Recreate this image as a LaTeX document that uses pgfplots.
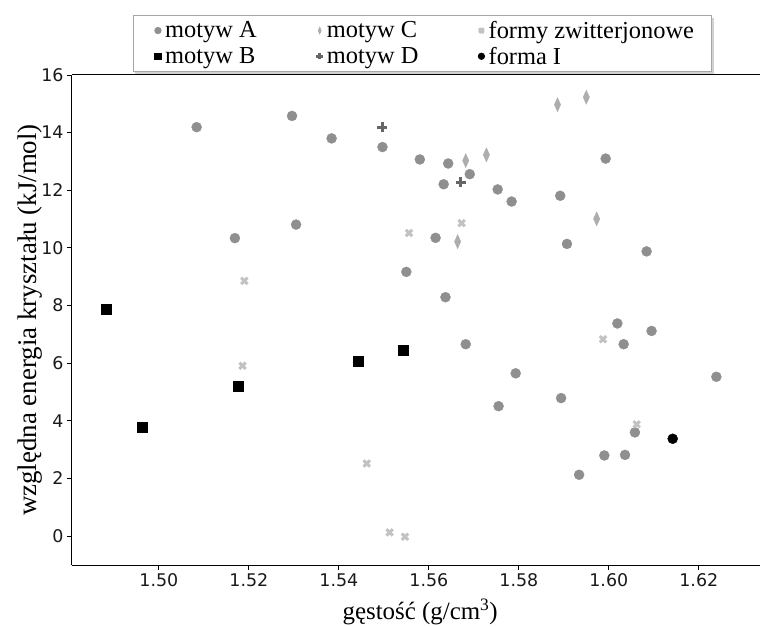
\documentclass[border=0pt]{standalone}
\usepackage{fontspec}
\setmainfont{Liberation Serif}
\newfontfamily\dejavu{DejaVu Sans}
\usepackage{pgfplots}
\pgfplotsset{compat=1.18}
\usetikzlibrary{shadows}

\definecolor{cA}{gray}{0.56}
\definecolor{cC}{gray}{0.68}
\definecolor{cZ}{gray}{0.76}
\definecolor{cD}{gray}{0.40}

\begin{document}
\begin{tikzpicture}
\begin{axis}[
    scale only axis,
    width=688bp, height=490bp,
    xmin=1.4807, xmax=1.6336,
    ymin=-1, ymax=16,
    axis x line=box, axis y line=left,
    axis line style={-, line width=1bp},
    xtick pos=left, ytick pos=left,
    tick align=outside,
    major tick length=5bp,
    tick style={black, line width=0.9bp},
    xtick={1.50,1.52,...,1.621},
    ytick={0,2,...,16},
    /pgf/number format/assume math mode=true,
    xticklabel style={/pgf/number format/.cd, fixed, fixed zerofill, precision=2},
    ticklabel style={font=\dejavu\fontsize{17.5}{17.5}\selectfont, text=black!90},
    xlabel={gęstość (g/cm\textsuperscript{3})},
    ylabel={względna energia kryształu (kJ/mol)},
    xlabel style={font=\fontsize{25}{25}\selectfont,
        at={(axis description cs:0.506,0)}, anchor=center, yshift=-47bp},
    ylabel style={font=\fontsize{27}{27}\selectfont,
        at={(axis description cs:-0.061,0.5)}, anchor=center},
    legend columns=3,
    legend cell align=left,
    legend style={at={(0.5087,1)}, anchor=south, yshift=3bp,
        draw=gray!70, line width=0.8bp, fill=white,
        drop shadow={shadow xshift=2.5bp, shadow yshift=-2.5bp, fill=gray!70},
        font=\fontsize{24.5}{24.5}\selectfont,
        inner xsep=15bp, inner ysep=3.5bp,
        nodes={inner xsep=2bp, inner ysep=2.5bp},
        /tikz/every even column/.append style={column sep=51bp},
        /tikz/column sep=2bp,
        row sep=2bp},
    legend image code/.code={\path[draw=none, fill=none] (0bp,0bp) (13.2bp,0bp);
        \draw[#1, mark size=3.2bp] plot coordinates {(10bp,0bp)};},
]
\addplot[only marks, mark=*, mark size=5bp, color=cA, mark options={draw=cA, fill=cA}] coordinates {
(1.5084,14.19) (1.5296,14.58) (1.5384,13.80) (1.5497,13.50) (1.5305,10.81)
(1.5169,10.34) (1.5580,13.07) (1.5643,12.93) (1.5993,13.10) (1.5691,12.56)
(1.5633,12.21) (1.5753,12.03) (1.5784,11.61) (1.5892,11.81) (1.5615,10.35)
(1.5907,10.14) (1.6084,9.88) (1.5550,9.17) (1.5637,8.29) (1.5682,6.66)
(1.6019,7.38) (1.6095,7.12) (1.6033,6.66) (1.5793,5.65) (1.5755,4.51)
(1.5894,4.79) (1.6058,3.60) (1.5990,2.80) (1.6036,2.82) (1.5934,2.13)
(1.6239,5.53)
};
\addlegendentry{motyw A}
\addplot[only marks, mark=diamond*, mark size=7bp, color=cC, mark options={draw=cC, fill=cC, xscale=0.6}] coordinates {
(1.5886,14.97) (1.5950,15.23) (1.5682,13.03) (1.5728,13.23) (1.5973,11.01) (1.5664,10.22)
};
\addlegendentry{motyw C}
\addplot[only marks, mark=x, mark size=4.5bp, color=cZ, line width=3bp] coordinates {
(1.5190,8.86) (1.5186,5.91) (1.5673,10.86) (1.5556,10.52) (1.5987,6.83)
(1.6062,3.88) (1.5462,2.52) (1.5513,0.13) (1.5547,-0.02)
};
\addlegendentry{formy zwitterjonowe}
\addplot[only marks, mark=square*, mark size=5bp, color=black] coordinates {
(1.4884,7.87) (1.4962,3.78) (1.5176,5.21) (1.5444,6.08) (1.5542,6.45)
};
\addlegendentry{motyw B}
\addplot[only marks, mark=+, mark size=5bp, color=cD, line width=3bp] coordinates {
(1.5497,14.19) (1.5671,12.28)
};
\addlegendentry{motyw D}
\addplot[only marks, mark=*, mark size=5bp, color=black] coordinates {
(1.6142,3.38)
};
\addlegendentry{forma I}
\coordinate (SW) at (rel axis cs:0,0);
\coordinate (NE) at (rel axis cs:1,1);
\end{axis}
\pgfresetboundingbox
\path ([shift={(-72bp,-62bp)}]SW) rectangle ([shift={(0bp,75bp)}]NE);
\end{tikzpicture}
\end{document}
